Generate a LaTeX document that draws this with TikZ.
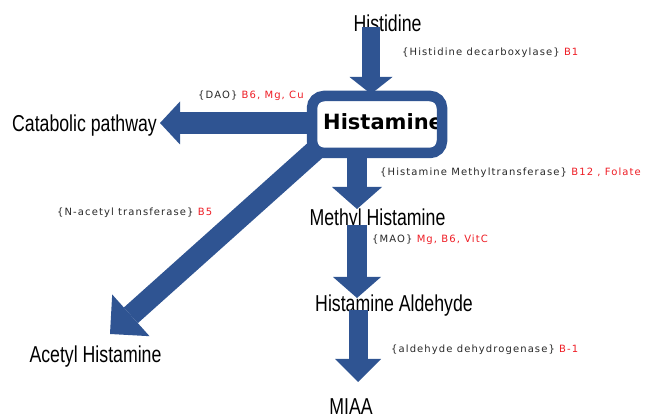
\documentclass[tikz,border=0pt]{standalone}
\usepackage{fontspec}
\usetikzlibrary{arrows.meta}
\newfontfamily\labfont{Liberation Sans}
\newfontfamily\smfont[LetterSpace=11]{DejaVu Sans}
\newfontfamily\boldfont{DejaVu Sans}
\definecolor{arrowblue}{RGB}{47,84,146}
\definecolor{enzred}{RGB}{238,28,36}
\definecolor{enzgray}{RGB}{40,40,40}
\newcommand{\mylab}[1]{\scalebox{0.77}[1]{\labfont\fontsize{23}{23}\selectfont #1}}
\tikzset{
  metab/.style={anchor=base, inner sep=0pt, text=black},
  enz/.style={anchor=base west, inner sep=0pt, text=enzgray, font=\smfont\fontsize{10}{12}\selectfont},
  flow/.style n args={3}{draw=arrowblue, line width=#1,
     -{Triangle[width=#2,length=#3,line width=0pt]}},
  hbox/.style={minimum width=130pt, minimum height=57pt, inner sep=0pt, outer sep=0pt, fill=white},
  hborder/.style={draw=arrowblue, line width=10.5pt, rounded corners=12pt}
}
\begin{document}
\begin{tikzpicture}[x=1pt,y=-1pt]
\useasboundingbox (0,0) rectangle (646,419);
% metabolite labels
\node[metab] (histidine) at (387.5,32) {\mylab{Histidine}};
\node[metab] (catab) at (84.5,132) {\mylab{Catabolic pathway}};
\node[metab] (methyl) at (377.5,226) {\mylab{Methyl Histamine}};
\node[metab] (ald) at (394,312) {\mylab{Histamine Aldehyde}};
\node[metab] (miaa) at (351,415) {\mylab{MIAA}};
\node[metab] (acetyl) at (95.5,363) {\mylab{Acetyl Histamine}};
% arrow end points
\coordinate (a1s) at (371,27);  \coordinate (a1e) at (371,94);
\coordinate (a2s) at (315,123); \coordinate (a2e) at (160,123);
\coordinate (a3s) at (357,150); \coordinate (a3e) at (357,209);
\coordinate (a4s) at (357,225); \coordinate (a4e) at (357,298);
\coordinate (a5s) at (358,310); \coordinate (a5e) at (358,382);
\coordinate (a6s) at (320,146); \coordinate (a6e) at (110,334);
\draw[flow={18pt}{43pt}{17pt}] (a1s) -- (a1e);
\draw[flow={22pt}{43pt}{20pt}] (a2s) -- (a2e);
\draw[flow={20pt}{50pt}{22pt}] (a3s) -- (a3e);
\draw[flow={20pt}{48pt}{21pt}] (a4s) -- (a4e);
\draw[flow={19pt}{46pt}{23pt}] (a5s) -- (a5e);
\draw[flow={21pt}{56pt}{28pt}] (a6s) -- (a6e);
% enzyme labels
\node[enz] (e1) at (402,56) {\{Histidine decarboxylase\} \textcolor{enzred}{B1}};
\node[enz] (e2) at (198,99) {\{DAO\} \textcolor{enzred}{B6, Mg, Cu}};
\node[enz] (e3) at (380,176) {\{Histamine Methyltransferase\} \textcolor{enzred}{B12 , Folate}};
\node[enz] (e4) at (372,243) {\{MAO\} \textcolor{enzred}{Mg, B6, VitC}};
\node[enz] (e5) at (57,216) {\{N-acetyl transferase\} \textcolor{enzred}{B5}};
\node[enz] (e6) at (391,353) {\{aldehyde dehydrogenase\} \textcolor{enzred}{B-1}};
% histamine box
\node[hbox] (hbox) at (377,124.5) {};
\begin{scope}
\clip (hbox.north west) rectangle (hbox.south east);
\node[anchor=base west, inner sep=0pt, font=\boldfont\bfseries\fontsize{21}{21}\selectfont] (histamine) at (323,129.5) {Histamine};
\end{scope}
\draw[hborder] (hbox.north west) rectangle (hbox.south east);
\end{tikzpicture}
\end{document}
